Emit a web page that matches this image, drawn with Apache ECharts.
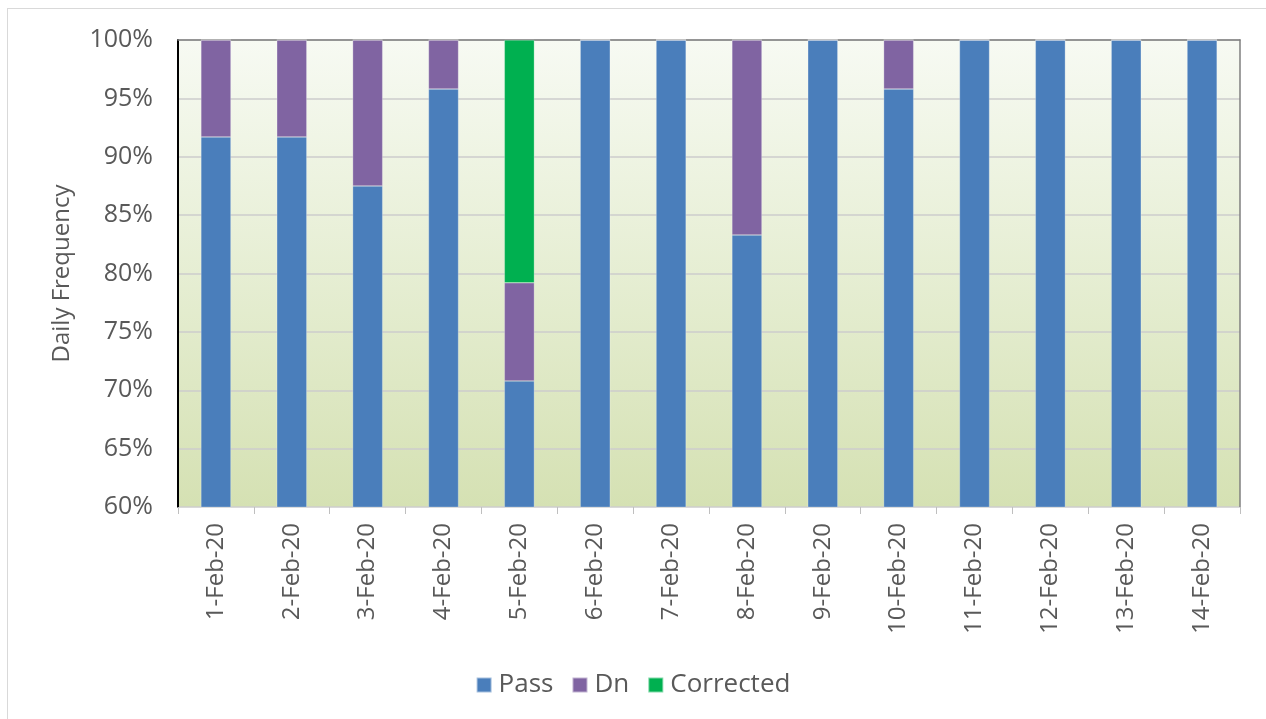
<!DOCTYPE html>
<html>
<head>
<meta charset="utf-8">
<script src="https://cdn.jsdelivr.net/npm/echarts@6/dist/echarts.min.js"></script>
<style>
  html, body { margin: 0; padding: 0; background: #fff; }
  .frame {
    position: absolute; left: 7px; top: 8px; width: 1270px; height: 720px;
    border: 1px solid #d9d9d9; box-sizing: border-box;
  }
  #chart { position: absolute; left: 0; top: 0; width: 1266px; height: 719px; }
</style>
</head>
<body>
<div class="frame"></div>
<div id="chart"></div>
<script>
const days = ['1-Feb-20', '2-Feb-20', '3-Feb-20', '4-Feb-20', '5-Feb-20', '6-Feb-20', '7-Feb-20',
  '8-Feb-20', '9-Feb-20', '10-Feb-20', '11-Feb-20', '12-Feb-20', '13-Feb-20', '14-Feb-20']
const passPct = [91.7, 91.7, 87.5, 95.8, 70.8, 100, 100, 83.3, 100, 95.8, 100, 100, 100, 100]
const dnPct = [8.3, 8.3, 12.5, 4.2, 8.4, 0, 0, 16.7, 0, 4.2, 0, 0, 0, 0]
const correctedPct = [0, 0, 0, 0, 20.8, 0, 0, 0, 0, 0, 0, 0, 0, 0]

const labelFont = 'Open Sans'
const chart = echarts.init(document.getElementById('chart'))

function barSeries(name, data, color) {
  return {
    name: name,
    type: 'bar',
    stack: 'total',
    barWidth: 30,
    data: data,
    itemStyle: { color: color, borderColor: 'rgba(255,255,255,0.5)', borderWidth: 0.5 },
    emphasis: { disabled: true }
  }
}

chart.setOption({
  animation: false,
  textStyle: { fontFamily: labelFont },
  grid: {
    left: 178, right: 26, top: 40, bottom: 212,
    show: true,
    borderWidth: 0,
    backgroundColor: {
      type: 'linear', x: 0, y: 0, x2: 0, y2: 1,
      colorStops: [
        { offset: 0, color: '#f7faf3' },
        { offset: 0.5, color: '#e6eed3' },
        { offset: 1, color: '#d5e1b3' }
      ]
    }
  },
  legend: {
    bottom: 16,
    left: 'center',
    itemWidth: 15,
    itemHeight: 15,
    itemGap: 18,
    icon: 'rect',
    textStyle: { fontSize: 26, color: '#595959', fontFamily: labelFont, padding: [0, 0, 0, 2] },
    data: ['Pass', 'Dn', 'Corrected']
  },
  xAxis: [{
    type: 'category',
    data: days,
    axisLine: { lineStyle: { color: '#d9d9d9', width: 1 } },
    axisTick: { show: true, length: 7, lineStyle: { color: '#bfbfbf' } },
    axisLabel: { rotate: 90, fontSize: 24, color: '#595959', margin: 16 }
  }, {
    type: 'category',
    position: 'top',
    data: days,
    axisLine: { lineStyle: { color: '#7f7f7f', width: 1.5 } },
    axisTick: { show: false },
    axisLabel: { show: false }
  }],
  yAxis: [{
    type: 'value',
    min: 60,
    max: 100,
    interval: 5,
    name: 'Daily Frequency',
    nameLocation: 'middle',
    nameGap: 104,
    nameTextStyle: { fontSize: 24, color: '#595959' },
    axisLine: { show: true, lineStyle: { color: '#000', width: 2 } },
    axisTick: { show: false },
    axisLabel: { formatter: '{value}%', fontSize: 25, color: '#595959', margin: 25 },
    splitLine: { lineStyle: { color: '#cccccc', width: 1.5 } }
  }, {
    type: 'value',
    position: 'right',
    min: 60,
    max: 100,
    interval: 5,
    axisLine: { show: true, lineStyle: { color: '#7f7f7f', width: 1.5 } },
    axisTick: { show: false },
    axisLabel: { show: false },
    splitLine: { show: false }
  }],
  series: [
    barSeries('Pass', passPct, '#4a7ebb'),
    barSeries('Dn', dnPct, '#8064a2'),
    barSeries('Corrected', correctedPct, '#00b050')
  ]
})
</script>
</body>
</html>
